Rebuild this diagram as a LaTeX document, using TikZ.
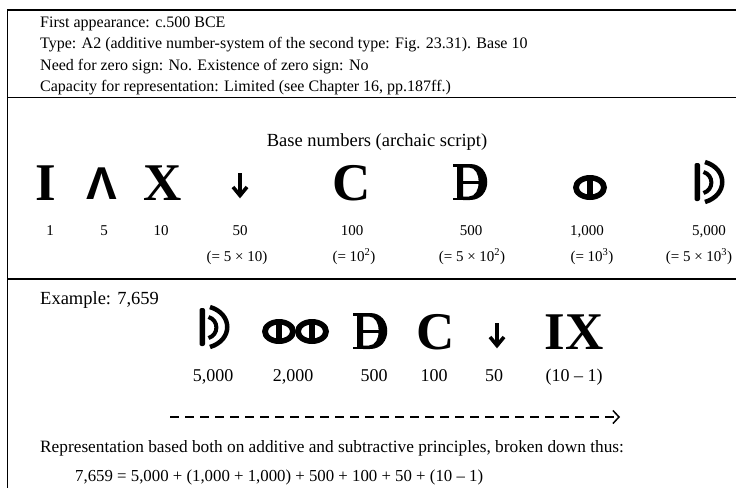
\documentclass[tikz,border=0pt]{standalone}
\usepackage{fontspec}
\setmainfont{Liberation Serif}
\newfontfamily\symsans{Liberation Sans}
\usetikzlibrary{arrows.meta}
\tikzset{
  info/.style={anchor=base west,inner sep=0pt,font=\fontsize{16}{18}\selectfont},
  rep/.style={anchor=base west,inner sep=0pt,font=\fontsize{17.3}{19}\selectfont},
  eqn/.style={anchor=base west,inner sep=0pt,font=\fontsize{16.8}{19}\selectfont},
  head/.style={anchor=base,inner sep=0pt,font=\fontsize{18.5}{20}\selectfont},
  headw/.style={anchor=base west,inner sep=0pt,font=\fontsize{18.5}{20}\selectfont},
  val/.style={anchor=base,inner sep=0pt,font=\fontsize{15}{17}\selectfont},
  exval/.style={anchor=base,inner sep=0pt,font=\fontsize{18}{20}\selectfont},
  bigsym/.style={anchor=base,inner sep=0pt,font=\bfseries\fontsize{53}{53}\selectfont},
  lamsym/.style={anchor=base,inner sep=0pt,font=\symsans\bfseries\fontsize{46}{46}\selectfont},
  rule/.style={line width=1.3pt},
  ink/.style={fill=black,draw=none},
  sym500/.pic={
    \fill[ink,even odd rule] (-7,-36) -- (0,-36) .. controls (23,-36) and (23,0) .. (0,0) -- (-7,0) -- cycle
      (-7,-32.5) -- (-1,-32.5) .. controls (12,-32.5) and (12,-3.5) .. (-1,-3.5) -- (-7,-3.5) -- cycle;
    \fill[ink] (-13,-36) rectangle (-7,0);
    \fill[ink] (-17,-36) rectangle (-4,-33.5);
    \fill[ink] (-17,-2.5) rectangle (-4,0);
    \fill[ink] (-7,-19.5) rectangle (11,-16);
  },
  sym1000/.pic={
    \fill[ink,even odd rule] (0,-12.5) ellipse [x radius=17pt, y radius=12.5pt]
      (0,-12.5) ellipse [x radius=11pt, y radius=7pt];
    \fill[ink] (-2.8,-21) rectangle (2.8,-4);
  },
  sym5000/.pic={
    \fill[ink, rounded corners=2pt] (-14.5,-39) rectangle (-9,-1);
    \draw[line width=4pt] (-5.5,-30) .. controls (5,-27) and (5,-12) .. (-5.5,-9);
    \draw[line width=4.5pt] (-4,-40) .. controls (19,-33) and (19,-7) .. (-4,0);
  },
  symdown/.pic={
    \draw[line width=3.8pt] (0,-25) -- (0,-3);
    \draw[line width=3.6pt, line join=miter] (-7,-11) -- (0,-2.5) -- (7,-11);
  }
}
\begin{document}
\begin{tikzpicture}[x=1pt,y=-1pt]
\useasboundingbox (0,0) rectangle (736,488);
% frame
\coordinate (tl) at (7.5,10);
\coordinate (tr) at (736,10);
\coordinate (bl) at (7.5,488);
\coordinate (m1l) at (7.5,97.5);
\coordinate (m1r) at (736,97.5);
\coordinate (m2l) at (7.5,279);
\coordinate (m2r) at (736,279);
\draw[rule] (tr) -- (tl) -- (bl);
\draw[rule] (m1l) -- (m1r);
\draw[rule] (m2l) -- (m2r);
% info
\node[info] (i1) at (40,27) {First appearance: c.500 BCE};
\node[info] (i2) at (40,48.5) {Type: A2 (additive number-system of the second type: Fig. 23.31). Base 10};
\node[info] (i3) at (40,70) {Need for zero sign: No. Existence of zero sign: No};
\node[info] (i4) at (40,91) {Capacity for representation: Limited (see Chapter 16, pp.187ff.)};
% base numbers
\node[head] (title) at (377,146) {Base numbers (archaic script)};
\node[bigsym] (s1) at (46,200) {I};
\node[lamsym] (s5) at (102,199) {Λ};
\node[bigsym] (s10) at (163,200) {X};
\pic at (240,198) {symdown};
\node[bigsym] (s100) at (352,200) {C};
\pic at (470,200) {sym500};
\pic at (590,200) {sym1000};
\pic at (709,202) {sym5000};
\node[val] (v1) at (50,235) {1};
\node[val] (v5) at (104,235) {5};
\node[val] (v10) at (161,235) {10};
\node[val] (v50) at (240,235) {50};
\node[val] (v100) at (352,235) {100};
\node[val] (v500) at (471,235) {500};
\node[val] (v1000) at (587,235) {1,000};
\node[val] (v5000) at (709,235) {5,000};
\node[val] (p50) at (237,261) {(= 5 × 10)};
\node[val] (p100) at (354,261) {(= 10\textsuperscript{2})};
\node[val] (p500) at (472,261) {(= 5 × 10\textsuperscript{2})};
\node[val] (p1000) at (592,261) {(= 10\textsuperscript{3})};
\node[val] (p5000) at (699,261) {(= 5 × 10\textsuperscript{3})};
% example
\node[headw] (ex) at (40,304) {Example: 7,659};
\pic at (214,347) {sym5000};
\pic at (279,344) {sym1000};
\pic at (312,344) {sym1000};
\pic at (370,349) {sym500};
\node[bigsym] (e100) at (436,349) {C};
\pic at (497,348) {symdown};
\node[bigsym] (e9) at (574,349) {IX};
\node[exval] (ev1) at (213,381) {5,000};
\node[exval] (ev2) at (293,381) {2,000};
\node[exval] (ev3) at (374,381) {500};
\node[exval] (ev4) at (434,381) {100};
\node[exval] (ev5) at (494,381) {50};
\node[exval] (ev6) at (574,381) {(10 – 1)};
\coordinate (arrowstart) at (170,417);
\coordinate (arrowend) at (620,417);
\draw[line width=1.3pt, dash pattern=on 9pt off 6pt, -{Straight Barb[length=6pt,width=13pt,line width=1.5pt]}] (arrowstart) -- (arrowend);
\node[rep] (rep) at (40,452) {Representation based both on additive and subtractive principles, broken down thus:};
\node[eqn] (eq) at (75,481) {7,659 = 5,000 + (1,000 + 1,000) + 500 + 100 + 50 + (10 – 1)};
\end{tikzpicture}
\end{document}
